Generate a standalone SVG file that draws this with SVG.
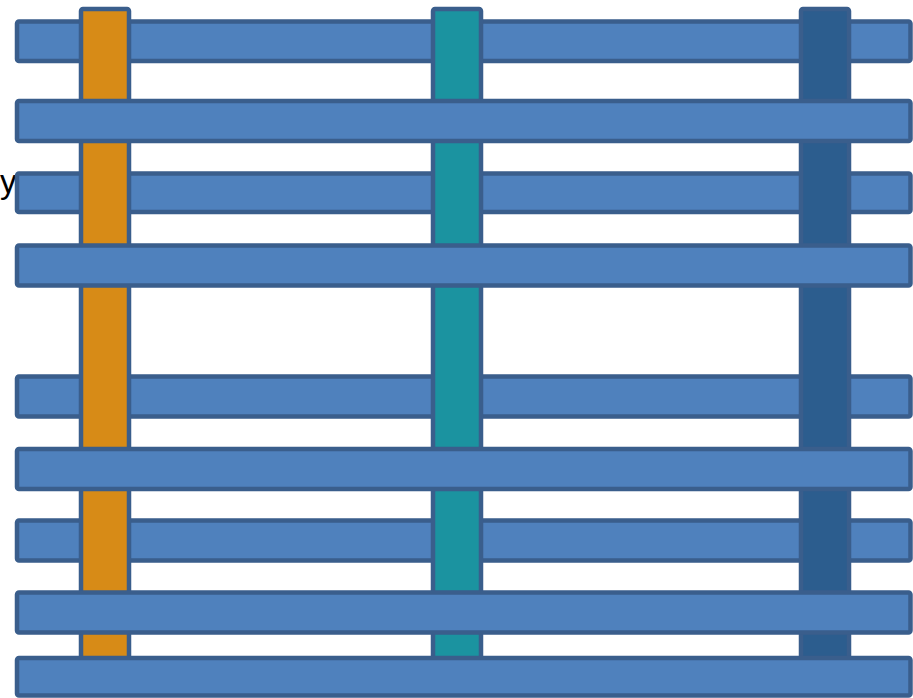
<svg xmlns="http://www.w3.org/2000/svg" width="913" height="698" viewBox="0 0 913 698">
<style>
.h{fill:#4F81BD;stroke:#3A5E8C;stroke-width:4.5}
.v{stroke:#3A5E8C;stroke-width:4.5}
.o{fill:#D78B17}
.t{fill:#1B93A0}
.d{fill:#2C5D8E}
.lbl{font-family:"Liberation Sans",Arial,sans-serif;font-size:33px;fill:#000}
</style>
<rect width="913" height="698" fill="#fff"/>
<text class="lbl" x="16.5" y="193" text-anchor="end">y</text>
<g id="back-bars">
<rect id="h1" class="h" x="17" y="21.5" width="893.5" height="39.5" rx="2"/>
<rect id="h3" class="h" x="17" y="173.5" width="893.5" height="38.5" rx="2"/>
<rect id="h5" class="h" x="17" y="376.5" width="893.5" height="40" rx="2"/>
<rect id="h7" class="h" x="17" y="520.5" width="893.5" height="40" rx="2"/>
</g>
<g id="verticals">
<rect id="v1" class="v o" x="81" y="9" width="48" height="656" rx="2"/>
<rect id="v2" class="v t" x="433" y="9" width="48" height="656" rx="2"/>
<rect id="v3" class="v d" x="801" y="9" width="48" height="656" rx="2"/>
</g>
<g id="front-bars">
<rect id="h2" class="h" x="17" y="101" width="893.5" height="40" rx="2"/>
<rect id="h4" class="h" x="17" y="245.5" width="893.5" height="40" rx="2"/>
<rect id="h6" class="h" x="17" y="449" width="893.5" height="40" rx="2"/>
<rect id="h8" class="h" x="17" y="592.5" width="893.5" height="40" rx="2"/>
<rect id="h9" class="h" x="17" y="658" width="893.5" height="37.5" rx="2"/>
</g>
</svg>
